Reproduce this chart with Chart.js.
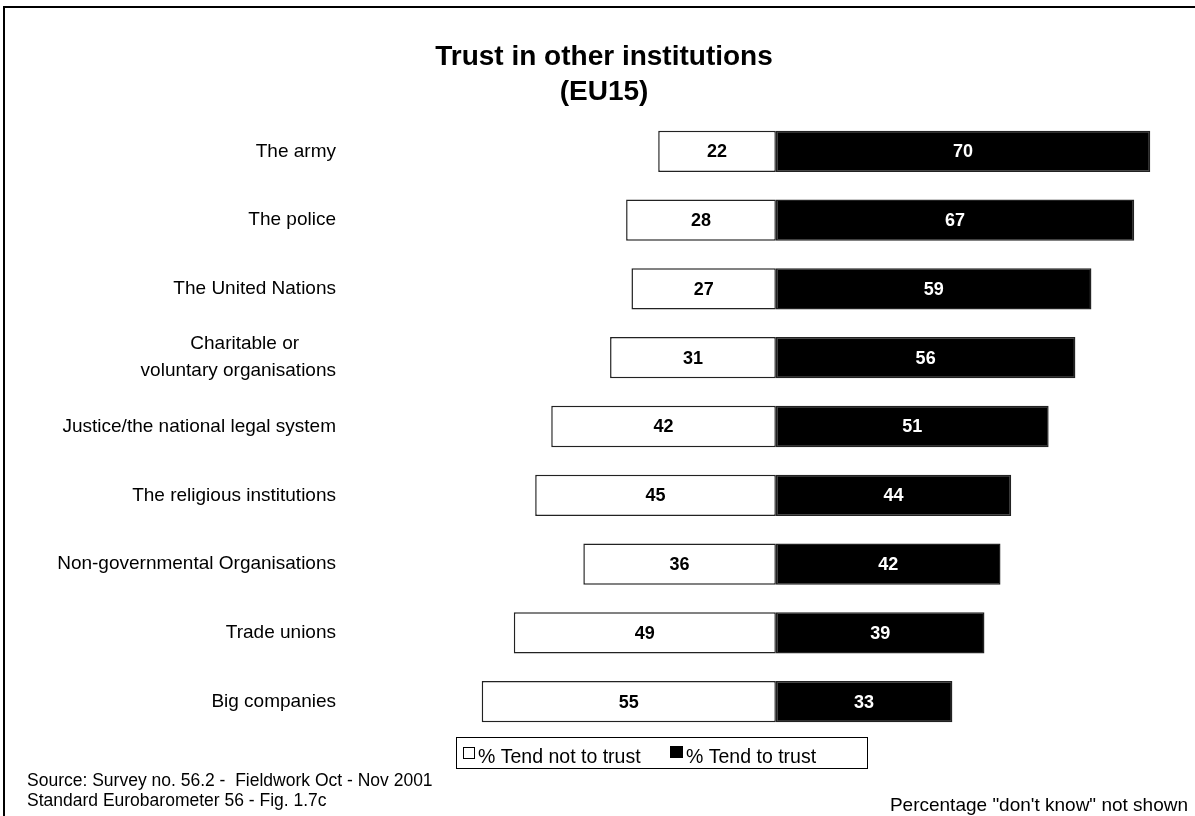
<!DOCTYPE html>
<html>
<head>
<meta charset="utf-8">
<script src="https://cdn.jsdelivr.net/npm/chart.js@4.4.0/dist/chart.umd.min.js"></script>
<style>
  html, body { margin: 0; padding: 0; background: #fff; }
  #wrap { width: 1195px; height: 816px; position: relative; }
</style>
</head>
<body>
<div id="wrap"><canvas id="trustChart"></canvas></div>
<script>
const FONT = '"Liberation Sans", Arial, Helvetica, sans-serif';

// institutions, top to bottom
const institutions = [
  "The army",
  "The police",
  "The United Nations",
  ["Charitable or       ", "voluntary organisations"],
  "Justice/the national legal system",
  "The religious institutions",
  "Non-governmental Organisations",
  "Trade unions",
  "Big companies"
];
const notTrust = [22, 28, 27, 31, 42, 45, 36, 49, 55];
const trust = [70, 67, 59, 56, 51, 44, 42, 39, 33];
const seriesNames = ["% Tend not to trust", "% Tend to trust"];

const titleLines = ["Trust in other institutions", "(EU15)"];
const sourceLines = [
  "Source: Survey no. 56.2 -  Fieldwork Oct - Nov 2001",
  "Standard Eurobarometer 56 - Fig. 1.7c"
];
const dkNote = 'Percentage "don\'t know" not shown';

// numbers inside each segment
const valueLabels = {
  id: "valueLabels",
  afterDatasetsDraw(chart) {
    const ctx = chart.ctx;
    ctx.save();
    ctx.font = "bold 18px " + FONT;
    ctx.textAlign = "center";
    ctx.textBaseline = "middle";
    chart.data.datasets.forEach((ds, di) => {
      chart.getDatasetMeta(di).data.forEach((bar, i) => {
        const x = (bar.x + bar.base) / 2;
        ctx.fillStyle = di === 0 ? "#000" : "#fff";
        ctx.fillText(Math.abs(ds.data[i]), x, bar.y + 1);
      });
    });
    ctx.restore();
  }
};

// frame, title, legend box and notes
const decorations = {
  id: "decorations",
  afterDraw(chart) {
    const ctx = chart.ctx;
    ctx.save();

    ctx.strokeStyle = "#000";
    ctx.lineWidth = 2;
    ctx.beginPath();
    ctx.moveTo(4, 816);
    ctx.lineTo(4, 7);
    ctx.lineTo(1195, 7);
    ctx.stroke();

    ctx.fillStyle = "#000";
    ctx.textAlign = "center";
    ctx.textBaseline = "middle";
    ctx.font = "bold 28px " + FONT;
    ctx.fillText(titleLines[0], 604, 57);
    ctx.fillText(titleLines[1], 604, 92);

    // legend
    ctx.lineWidth = 1;
    ctx.strokeRect(456.5, 737.5, 411, 31);
    ctx.font = "19.5px " + FONT;
    ctx.textAlign = "left";
    ctx.textBaseline = "alphabetic";
    ctx.fillStyle = "#fff";
    ctx.fillRect(463.5, 747.5, 11, 11);
    ctx.strokeRect(463.5, 747.5, 11, 11);
    ctx.fillStyle = "#000";
    ctx.fillText(seriesNames[0], 478, 763);
    ctx.fillRect(670, 746, 13, 12);
    ctx.fillText(seriesNames[1], 686, 763);

    ctx.font = "17.5px " + FONT;
    ctx.fillText(sourceLines[0], 27, 786);
    ctx.fillText(sourceLines[1], 27, 806);
    ctx.textAlign = "right";
    ctx.font = "19px " + FONT;
    ctx.fillText(dkNote, 1188, 811);

    ctx.restore();
  }
};

new Chart(document.getElementById("trustChart"), {
  type: "bar",
  data: {
    labels: institutions,
    datasets: [
      {
        label: seriesNames[0],
        data: notTrust.map(v => -v),
        backgroundColor: "#fff",
        borderColor: "#222",
        borderWidth: 1.5,
        borderSkipped: false
      },
      {
        label: seriesNames[1],
        data: trust,
        backgroundColor: "#000",
        borderColor: "#222",
        borderWidth: 1.5,
        borderSkipped: false
      }
    ]
  },
  options: {
    indexAxis: "y",
    responsive: true,
    maintainAspectRatio: false,
    animation: false,
    datasets: { bar: { categoryPercentage: 1, barPercentage: 0.6 } },
    layout: { padding: { top: 117, bottom: 80, left: 0, right: 18 } },
    scales: {
      x: {
        stacked: true,
        display: false,
        min: -80,
        max: 75
      },
      y: {
        stacked: true,
        grid: { display: false, drawTicks: false },
        border: { display: false },
        ticks: {
          color: "#000",
          padding: 12,
          font: { family: FONT, size: 19, lineHeight: 1.42 }
        },
        afterFit(scale) { scale.width = 348; }
      }
    },
    plugins: {
      legend: { display: false },
      tooltip: { enabled: false }
    }
  },
  plugins: [valueLabels, decorations]
});
</script>
</body>
</html>
